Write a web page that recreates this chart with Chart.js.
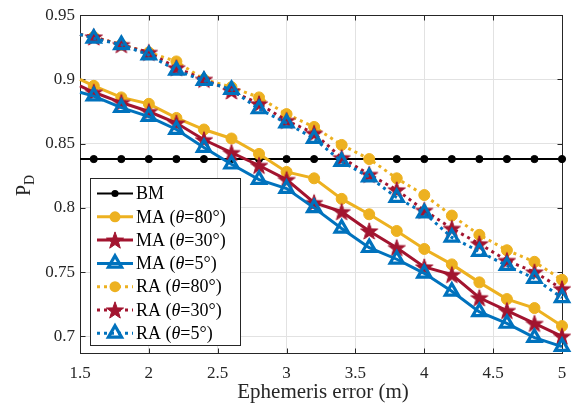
<!DOCTYPE html>
<html>
<head>
<meta charset="utf-8">
<script src="https://cdn.jsdelivr.net/npm/chart.js@4/dist/chart.umd.min.js"></script>
<style>
  html, body { margin: 0; padding: 0; background: #fff; }
  #wrap { width: 584px; height: 404px; }
</style>
</head>
<body>
<div id="wrap"><canvas id="c" width="584" height="404"></canvas></div>
<script>
// Ephemeris error (m)
const errorM = [1.5, 1.6, 1.8, 2.0, 2.2, 2.4, 2.6, 2.8, 3.0, 3.2, 3.4, 3.6, 3.8, 4.0, 4.2, 4.4, 4.6, 4.8, 5.0];

// Detection probability P_D for each scheme
const bm   = [0.838, 0.838, 0.838, 0.838, 0.838, 0.838, 0.838, 0.838, 0.838, 0.838, 0.838, 0.838, 0.838, 0.838, 0.838, 0.838, 0.838, 0.838, 0.838];
const ma80 = [0.900, 0.895, 0.886, 0.881, 0.870, 0.861, 0.854, 0.842, 0.828, 0.823, 0.807, 0.795, 0.782, 0.768, 0.756, 0.742, 0.729, 0.722, 0.708];
const ma30 = [0.895, 0.890, 0.882, 0.875, 0.866, 0.853, 0.843, 0.833, 0.822, 0.804, 0.797, 0.782, 0.769, 0.754, 0.748, 0.730, 0.720, 0.710, 0.700];
const ma5  = [0.890, 0.887, 0.878, 0.871, 0.861, 0.847, 0.834, 0.822, 0.815, 0.800, 0.784, 0.769, 0.760, 0.749, 0.735, 0.719, 0.710, 0.699, 0.692];
const ra80 = [0.935, 0.933, 0.927, 0.921, 0.914, 0.900, 0.894, 0.886, 0.873, 0.863, 0.849, 0.838, 0.823, 0.810, 0.794, 0.779, 0.767, 0.758, 0.744];
const ra30 = [0.935, 0.933, 0.927, 0.921, 0.909, 0.900, 0.891, 0.881, 0.868, 0.858, 0.839, 0.826, 0.814, 0.798, 0.784, 0.772, 0.759, 0.750, 0.737];
const ra5  = [0.935, 0.932, 0.927, 0.919, 0.907, 0.899, 0.892, 0.877, 0.866, 0.854, 0.836, 0.824, 0.808, 0.796, 0.777, 0.766, 0.755, 0.745, 0.730];

// Axis ticks
const xTicks = [1.5, 2, 2.5, 3, 3.5, 4, 4.5, 5];
const xTickLabels = ['1.5', '2', '2.5', '3', '3.5', '4', '4.5', '5'];
const yTicks = [0.7, 0.75, 0.8, 0.85, 0.9, 0.95];
const yTickLabels = ['0.7', '0.75', '0.8', '0.85', '0.9', '0.95'];

const seriesNames = ['BM', 'MA (θ=80°)', 'MA (θ=30°)', 'MA (θ=5°)', 'RA (θ=80°)', 'RA (θ=30°)', 'RA (θ=5°)'];

const YELLOW = '#EDB120', RED = '#A2142F', BLUE = '#0072BD', BLACK = '#000000';
const AXIS = '#262626';
const SERIF = '"Liberation Serif", "Times New Roman", serif';

// Filled five-point star used as a marker
function makeStar(color, R) {
  const size = Math.ceil(R * 2 + 2);
  const cv = document.createElement('canvas');
  cv.width = size; cv.height = size;
  const g = cv.getContext('2d');
  drawStar(g, size / 2, size / 2 + 0.8, R, color);
  return cv;
}
function drawStar(g, cx, cy, R, color) {
  const r = R * 0.4;
  g.beginPath();
  for (let i = 0; i < 10; i++) {
    const a = -Math.PI / 2 + i * Math.PI / 5;
    const rr = i % 2 === 0 ? R : r;
    const px = cx + rr * Math.cos(a), py = cy + rr * Math.sin(a);
    if (i === 0) g.moveTo(px, py); else g.lineTo(px, py);
  }
  g.closePath();
  g.fillStyle = color;
  g.fill();
  g.lineWidth = 1;
  g.strokeStyle = color;
  g.stroke();
}
const starImg = makeStar(RED, 9);

const TRI_R = 7.6, TRI_W = 3.2;

const pts = ys => errorM.map((x, i) => ({ x: x, y: ys[i] }));
const radii = r => errorM.map((_, i) => (i === 0 ? 0 : r));

function series(label, ys, color, kind, dotted, order) {
  const ds = {
    label: label,
    data: pts(ys),
    borderColor: color,
    borderWidth: kind === 'bm' ? 2 : 3,
    borderDash: dotted ? [3, 4] : [],
    borderCapStyle: 'butt',
    tension: 0,
    fill: false,
    clip: false,
    order: order,
    pointHoverRadius: 0
  };
  if (kind === 'bm') {
    Object.assign(ds, { pointStyle: 'circle', pointRadius: radii(3.6), pointBackgroundColor: color, pointBorderColor: color, pointBorderWidth: 1 });
  } else if (kind === 'circle') {
    Object.assign(ds, { pointStyle: 'circle', pointRadius: radii(5.5), pointBackgroundColor: color, pointBorderColor: color, pointBorderWidth: 1 });
  } else if (kind === 'star') {
    Object.assign(ds, { pointStyle: starImg, pointRadius: radii(8), pointBackgroundColor: color, pointBorderColor: color });
  } else {
    Object.assign(ds, { pointStyle: 'triangle', pointRadius: radii(TRI_R), pointBackgroundColor: 'rgba(0,0,0,0)', pointBorderColor: color, pointBorderWidth: TRI_W });
  }
  return ds;
}

const datasets = [
  series(seriesNames[0], bm,   BLACK,  'bm',       false, 6),
  series(seriesNames[1], ma80, YELLOW, 'circle',   false, 5),
  series(seriesNames[2], ma30, RED,    'star',     false, 4),
  series(seriesNames[3], ma5,  BLUE,   'triangle', false, 3),
  series(seriesNames[4], ra80, YELLOW, 'circle',   true,  2),
  series(seriesNames[5], ra30, RED,    'star',     true,  1),
  series(seriesNames[6], ra5,  BLUE,   'triangle', true,  0)
];

// Box frame with inward tick marks, drawn beneath the data
const framePlugin = {
  id: 'frame',
  beforeDatasetsDraw(chart) {
    const { ctx, chartArea: a, scales } = chart;
    const L = Math.round(a.left) + 0.5, R = Math.round(a.right) + 0.5;
    const T = Math.round(a.top) + 0.5, B = Math.round(a.bottom) + 0.5;
    ctx.save();
    ctx.strokeStyle = AXIS;
    ctx.lineWidth = 1;
    ctx.strokeRect(L, T, R - L, B - T);
    ctx.beginPath();
    xTicks.forEach(v => {
      const x = Math.round(scales.x.getPixelForValue(v)) + 0.5;
      ctx.moveTo(x, B); ctx.lineTo(x, B - 5);
      ctx.moveTo(x, T); ctx.lineTo(x, T + 5);
    });
    yTicks.forEach(v => {
      const y = Math.round(scales.y.getPixelForValue(v)) + 0.5;
      ctx.moveTo(L, y); ctx.lineTo(L + 5, y);
      ctx.moveTo(R, y); ctx.lineTo(R - 5, y);
    });
    ctx.stroke();
    ctx.restore();
  }
};

// Text with an italic theta
function drawRich(ctx, text, x, y, size) {
  let cx = x;
  for (const ch of text) {
    ctx.font = (ch === 'θ' ? 'italic ' : '') + size + 'px ' + SERIF;
    ctx.fillText(ch, cx, y);
    cx += ctx.measureText(ch).width;
  }
}

// Axis titles and the legend box
const annotPlugin = {
  id: 'annot',
  afterDraw(chart) {
    const { ctx, chartArea: a } = chart;
    ctx.save();
    ctx.fillStyle = AXIS;
    ctx.textBaseline = 'alphabetic';

    // x-axis title
    ctx.font = '21px ' + SERIF;
    ctx.textAlign = 'center';
    ctx.fillText('Ephemeris error (m)', (a.left + a.right) / 2 + 2, 398);

    // y-axis title P_D
    ctx.save();
    ctx.translate(30, 196);
    ctx.rotate(-Math.PI / 2);
    ctx.textAlign = 'left';
    ctx.font = '20px ' + SERIF;
    ctx.fillText('P', 0, 0);
    const pw = ctx.measureText('P').width;
    ctx.font = '14px ' + SERIF;
    ctx.fillText('D', pw, 4);
    ctx.restore();

    // legend
    const bx = 90.5, by = 178.5, bw = 150, bh = 167;
    ctx.fillStyle = '#ffffff';
    ctx.fillRect(bx, by, bw, bh);
    ctx.strokeStyle = AXIS;
    ctx.lineWidth = 1;
    ctx.strokeRect(bx, by, bw, bh);

    const rowY0 = 193.5, rowH = 23.3;
    datasets.forEach((ds, i) => {
      const cy = rowY0 + i * rowH;
      const x0 = 97, x1 = 133, mx = 115;
      ctx.save();
      ctx.strokeStyle = ds.borderColor;
      ctx.lineWidth = ds.borderWidth;
      ctx.lineCap = 'butt';
      ctx.setLineDash(ds.borderDash);
      ctx.beginPath();
      ctx.moveTo(x0, cy); ctx.lineTo(x1, cy);
      ctx.stroke();
      ctx.setLineDash([]);
      if (ds.pointStyle === 'circle') {
        const r = i === 0 ? 3.6 : 5.5;
        ctx.fillStyle = ds.borderColor;
        ctx.beginPath(); ctx.arc(mx, cy, r, 0, Math.PI * 2); ctx.fill();
      } else if (ds.pointStyle === 'triangle') {
        ctx.lineWidth = TRI_W;
        ctx.strokeStyle = ds.borderColor;
        ctx.beginPath();
        for (let k = 0; k < 3; k++) {
          const ang = k * 2 * Math.PI / 3;
          const px = mx + Math.sin(ang) * TRI_R, py = cy - Math.cos(ang) * TRI_R;
          if (k === 0) ctx.moveTo(px, py); else ctx.lineTo(px, py);
        }
        ctx.closePath();
        ctx.stroke();
      } else {
        drawStar(ctx, mx, cy + 0.8, 9, ds.borderColor);
      }
      ctx.restore();
      ctx.fillStyle = '#000';
      ctx.textAlign = 'left';
      ctx.textBaseline = 'middle';
      drawRich(ctx, ds.label, 136, cy + 1, 18);
    });
    ctx.restore();
  }
};

new Chart(document.getElementById('c'), {
  type: 'line',
  data: { datasets: datasets },
  options: {
    responsive: false,
    animation: false,
    devicePixelRatio: 1,
    layout: { padding: { top: 10, right: 22, left: 0, bottom: 0 } },
    plugins: { legend: { display: false }, tooltip: { enabled: false } },
    scales: {
      x: {
        type: 'linear',
        min: 1.5, max: 5,
        afterBuildTicks: s => { s.ticks = xTicks.map(v => ({ value: v })); },
        afterFit: s => { s.height = 51; },
        ticks: {
          callback: (v) => xTickLabels[xTicks.indexOf(v)] ?? '',
          font: { family: SERIF, size: 17 },
          color: AXIS,
          padding: 10,
          maxRotation: 0,
          autoSkip: false
        },
        grid: { color: '#e2e2e2', lineWidth: 1, drawTicks: false },
        border: { display: false }
      },
      y: {
        type: 'linear',
        min: 0.687, max: 0.95,
        afterBuildTicks: s => { s.ticks = yTicks.map(v => ({ value: v })); },
        afterFit: s => { s.width = 80; },
        ticks: {
          callback: (v) => { const k = yTicks.findIndex(t => Math.abs(t - v) < 1e-9); return k >= 0 ? yTickLabels[k] : ''; },
          font: { family: SERIF, size: 17 },
          color: AXIS,
          padding: 5,
          autoSkip: false
        },
        grid: { color: '#e2e2e2', lineWidth: 1, drawTicks: false },
        border: { display: false }
      }
    }
  },
  plugins: [framePlugin, annotPlugin]
});
</script>
</body>
</html>
